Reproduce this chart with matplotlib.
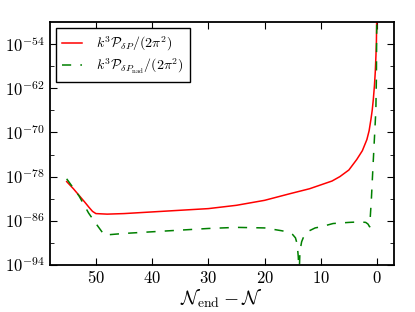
import numpy as np
import matplotlib
matplotlib.use("Agg")
import matplotlib.pyplot as plt

plt.rcParams['mathtext.fontset'] = 'cm'
plt.rcParams['font.family'] = ['DejaVu Serif']
plt.rcParams['lines.dashed_pattern'] = [6, 6]

# Red: k^3 P_dP /(2 pi^2), log10 values
n_red = [55.2, 54, 53, 52, 51.2, 50.6, 50, 48, 45, 40, 35, 30, 25, 20, 15.5, 12, 10, 8, 6.6, 5, 3.6, 2.6, 1.8, 1.4, 1.07, 0.85, 0.65, 0.45, 0.3, 0.18, 0.1, 0.03]
log_red = [-78.9, -80.2, -81.4, -82.6, -83.6, -84.3, -84.7, -84.8, -84.7, -84.4, -84.1, -83.8, -83.2, -82.3, -81.1, -80.2, -79.5, -78.8, -78.0, -76.8, -74.9, -73.3, -71.3, -69.7, -67.6, -66.0, -64.0, -61.5, -59.0, -56.0, -53.5, -48.0]

# Green: k^3 P_dPnad /(2 pi^2), log10 values
n_green = [55.2, 53, 51.3, 50, 48.5, 45, 40, 35, 30, 25, 20, 17, 16, 15, 14.5, 14.2, 14.0, 13.85, 13.7, 13.4, 13.0, 12.5, 12, 11, 10, 7.8, 5, 3, 2, 1.6, 1.3, 1.0, 0.75, 0.55, 0.35, 0.2, 0.1, 0.03]
log_green = [-78.4, -81.5, -84.6, -86.5, -88.6, -88.3, -88.0, -87.7, -87.4, -87.2, -87.3, -87.8, -88.0, -88.5, -89.1, -90.2, -92.5, -96.0, -91.5, -89.8, -88.8, -88.2, -87.8, -87.3, -87.1, -86.5, -86.3, -86.2, -86.3, -86.6, -87.1, -82.2, -77.0, -73.0, -69.0, -66.0, -60.0, -48.0]

yticks_exp = [-94, -86, -78, -70, -62, -54]
xticks = [50, 40, 30, 20, 10, 0]

fig = plt.figure(figsize=(4.15, 3.12), dpi=100)
ax = fig.add_axes([0.12, 0.151, 0.829, 0.778])

ax.plot(n_red, 10.0 ** np.array(log_red), color='r', lw=1.1,
        label=r'$k^3\mathcal{P}_{\delta P}/(2\pi^2)$')
ax.plot(n_green, 10.0 ** np.array(log_green), color='g', lw=1.1, ls='--',
        label=r'$k^3\mathcal{P}_{\delta P_{\rm nad}}/(2\pi^2)$')

ax.set_yscale('log')
ax.set_ylim(1e-94, 1e-50)
ax.set_xlim(58.2, -3.0)
ax.set_yticks([10.0 ** e for e in yticks_exp])
ax.set_yticklabels([r'$10^{%d}$' % e for e in yticks_exp])
ax.set_yticks([10.0 ** e for e in range(-90, -50, 8)], minor=True)
ax.set_yticklabels([], minor=True)
ax.set_xticks(xticks)
ax.set_xticklabels([r'$%d$' % v for v in xticks])
ax.tick_params(which='both', direction='in', top=True, right=True, labelsize=12)
ax.tick_params(which='major', length=5)
ax.tick_params(which='minor', length=3)
for s in ax.spines.values():
    s.set_linewidth(1.3)
ax.set_xlabel(r'$\mathcal{N}_{\rm end}-\mathcal{N}$', fontsize=14, labelpad=1)

leg = ax.legend(loc='upper left', fontsize=10, fancybox=False, framealpha=1,
                edgecolor='black', handlelength=1.4, handletextpad=1.0,
                borderpad=0.45, labelspacing=0.25, borderaxespad=0.45)
leg.get_frame().set_linewidth(1.0)

fig.savefig('out.png', dpi=100)
